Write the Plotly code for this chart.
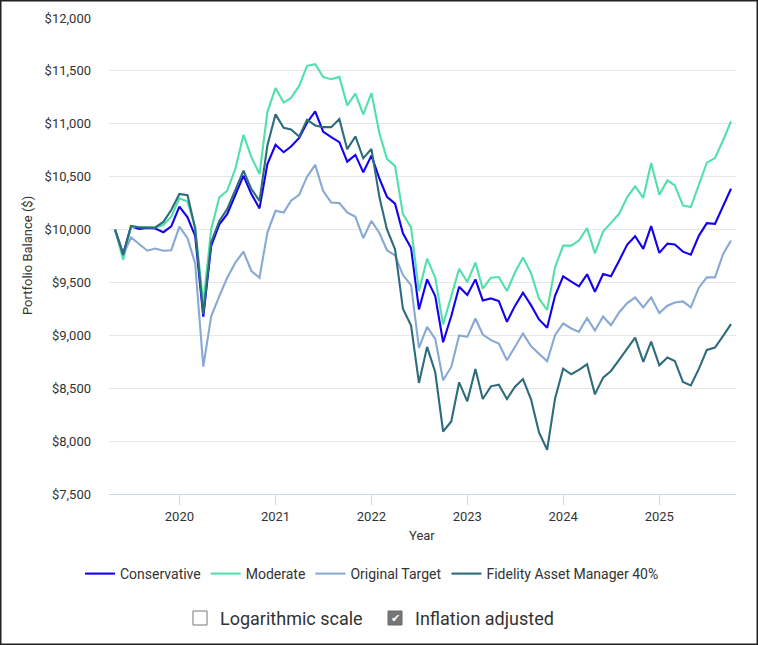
import pandas as pd
import plotly.graph_objects as go

dates = pd.date_range("2019-05-01", periods=78, freq="MS")

conservative = [
    10000, 9770, 10030, 10005, 10015, 10010, 9975, 10030, 10217, 10116, 9940, 9177,
    9845, 10050, 10145, 10335, 10510, 10335, 10200, 10620, 10801, 10731, 10785, 10867,
    11010, 11117, 10927, 10874, 10826, 10642, 10706, 10541, 10699, 10478, 10310, 10245,
    9965, 9825, 9245, 9529, 9371, 8935, 9182, 9460, 9381, 9529, 9330, 9349,
    9324, 9128, 9276, 9403, 9283, 9150, 9071, 9374, 9558, 9507, 9463, 9577,
    9412, 9580, 9558, 9706, 9858, 9937, 9817, 10032, 9779, 9867, 9858, 9791,
    9763, 9943, 10060, 10054, 10221, 10386,
]
moderate = [
    10000, 9715, 10027, 10027, 10020, 10020, 10043, 10122, 10296, 10264, 10020, 9300,
    10003, 10304, 10367, 10573, 10896, 10684, 10525, 11111, 11339, 11200, 11244, 11358,
    11548, 11563, 11443, 11421, 11443, 11174, 11285, 11089, 11291, 10905, 10668, 10600,
    10146, 10020, 9419, 9725, 9545, 9103, 9371, 9630, 9504, 9687, 9441, 9545,
    9551, 9419, 9592, 9735, 9586, 9346, 9240, 9643, 9848, 9848, 9896, 10013,
    9775, 9981, 10063, 10149, 10307, 10408, 10300, 10629, 10329, 10465, 10417, 10228,
    10212, 10423, 10632, 10676, 10844, 11024,
]
original_target = [
    10000, 9760, 9925, 9864, 9800, 9820, 9800, 9805, 10027, 9918, 9680, 8704,
    9180, 9370, 9544, 9687, 9791, 9608, 9544, 9972, 10177, 10161, 10272, 10329,
    10500, 10611, 10367, 10256, 10250, 10161, 10120, 9920, 10082, 9965, 9805, 9755,
    9570, 9475, 8881, 9080, 8967, 8575, 8701, 8998, 8986, 9159, 9008, 8954,
    8922, 8764, 8891, 9017, 8897, 8828, 8755, 9001, 9112, 9065, 9033, 9163,
    9046, 9178, 9096, 9216, 9305, 9358, 9264, 9358, 9210, 9280, 9311, 9321,
    9264, 9453, 9548, 9548, 9769, 9896,
]
fidelity_am40 = [
    10000, 9760, 10035, 10020, 10020, 10020, 10072, 10185, 10336, 10324, 10010, 9200,
    9880, 10082, 10193, 10383, 10557, 10383, 10272, 10794, 11089, 10962, 10946, 10880,
    11038, 10984, 10968, 10968, 11044, 10760, 10880, 10674, 10763, 10300, 10003, 9814,
    9251, 9093, 8550, 8891, 8651, 8091, 8186, 8556, 8376, 8682, 8398, 8518,
    8534, 8398, 8512, 8587, 8392, 8082, 7918, 8401, 8685, 8632, 8673, 8726,
    8442, 8600, 8663, 8768, 8875, 8979, 8749, 8941, 8717, 8790, 8758, 8559,
    8527, 8685, 8862, 8884, 8995, 9106,
]

series_names = ["Conservative", "Moderate", "Original Target", "Fidelity Asset Manager 40%"]
series_values = [conservative, moderate, original_target, fidelity_am40]
series_colors = ["#1400f0", "#52e0aa", "#87a9d2", "#2e6c7c"]

y_ticks = list(range(7500, 12001, 500))
y_tick_labels = ["${:,}".format(v) for v in y_ticks]

W, H = 758, 645
L, R, T, B = 109, 736, 18, 494


def pxx(x):
    return (x - L) / (R - L)


def pxy(y):
    return (B - y) / (B - T)


FONT = "Roboto"
TXT = "#333333"

fig = go.Figure()
for name, vals, col in zip(series_names, series_values, series_colors):
    fig.add_trace(go.Scatter(
        x=dates, y=vals, name=name, mode="lines",
        line=dict(color=col, width=2.1),
        hovertemplate="%{x|%b %Y}<br>$%{y:,.0f}<extra>" + name + "</extra>",
    ))

fig.update_layout(
    width=W, height=H,
    margin=dict(l=L, r=W - R, t=T, b=H - B, autoexpand=False),
    paper_bgcolor="white", plot_bgcolor="white",
    font=dict(family=FONT, color=TXT, size=13),
    showlegend=True,
    legend=dict(
        orientation="h", x=pxx(372), xanchor="center",
        y=pxy(574), yanchor="middle",
        font=dict(size=14, color=TXT, family=FONT),
        itemwidth=30, tracegroupgap=0,
        bgcolor="rgba(0,0,0,0)",
    ),
)

fig.update_xaxes(
    range=["2019-04-08", "2025-10-20"],
    tick0="2020-01-01", dtick="M12", tickformat="%Y",
    showgrid=False, zeroline=False,
    showline=True, linecolor="#ccd6eb", linewidth=1,
    ticks="outside", ticklen=10, tickcolor="#ccd6eb", tickwidth=1,
    tickfont=dict(size=13, color=TXT, family=FONT),
)
fig.update_yaxes(
    range=[7500, 12000],
    tickvals=y_ticks, ticktext=y_tick_labels,
    showgrid=True, gridcolor="#e6e6e6", gridwidth=1,
    zeroline=False, showline=False,
    ticks="", ticklabelstandoff=17,
    tickfont=dict(size=13, color=TXT, family=FONT),
)

# axis titles
fig.add_annotation(
    text="Portfolio Balance ($)", xref="paper", yref="paper",
    x=pxx(27), y=pxy(256), textangle=-90, showarrow=False,
    font=dict(size=13, color=TXT, family=FONT), xanchor="center", yanchor="middle",
)
fig.add_annotation(
    text="Year", xref="paper", yref="paper",
    x=pxx(422), y=pxy(535), showarrow=False,
    font=dict(size=13, color=TXT, family=FONT), xanchor="center", yanchor="middle",
)

# checkbox controls
fig.add_shape(type="rect", xref="paper", yref="paper",
              x0=pxx(193), x1=pxx(207), y0=pxy(625), y1=pxy(611),
              line=dict(color="#767676", width=1), fillcolor="white")
fig.add_annotation(
    text="Logarithmic scale", xref="paper", yref="paper",
    x=pxx(218), y=pxy(618), showarrow=False, xanchor="left", yanchor="middle",
    font=dict(size=18, color=TXT, family=FONT),
)
fig.add_shape(type="rect", xref="paper", yref="paper",
              x0=pxx(388), x1=pxx(402), y0=pxy(625), y1=pxy(611),
              line=dict(color="#6a6a6a", width=1), fillcolor="#767676")
fig.add_annotation(
    text="✔", xref="paper", yref="paper",
    x=pxx(395), y=pxy(618), showarrow=False, xanchor="center", yanchor="middle",
    font=dict(size=11, color="white", family="DejaVu Sans"),
)
fig.add_annotation(
    text="Inflation adjusted", xref="paper", yref="paper",
    x=pxx(413), y=pxy(618), showarrow=False, xanchor="left", yanchor="middle",
    font=dict(size=18, color=TXT, family=FONT),
)

# outer frame
fig.add_shape(type="rect", xref="paper", yref="paper",
              x0=pxx(0.75), x1=pxx(757.25), y0=pxy(644.25), y1=pxy(0.75),
              line=dict(color="#222222", width=1.5), fillcolor="rgba(0,0,0,0)",
              layer="above")

fig.write_html(
    "out.html",
    config={"displayModeBar": False},
    post_script="document.body.style.margin='0';document.body.style.overflow='hidden';",
)
